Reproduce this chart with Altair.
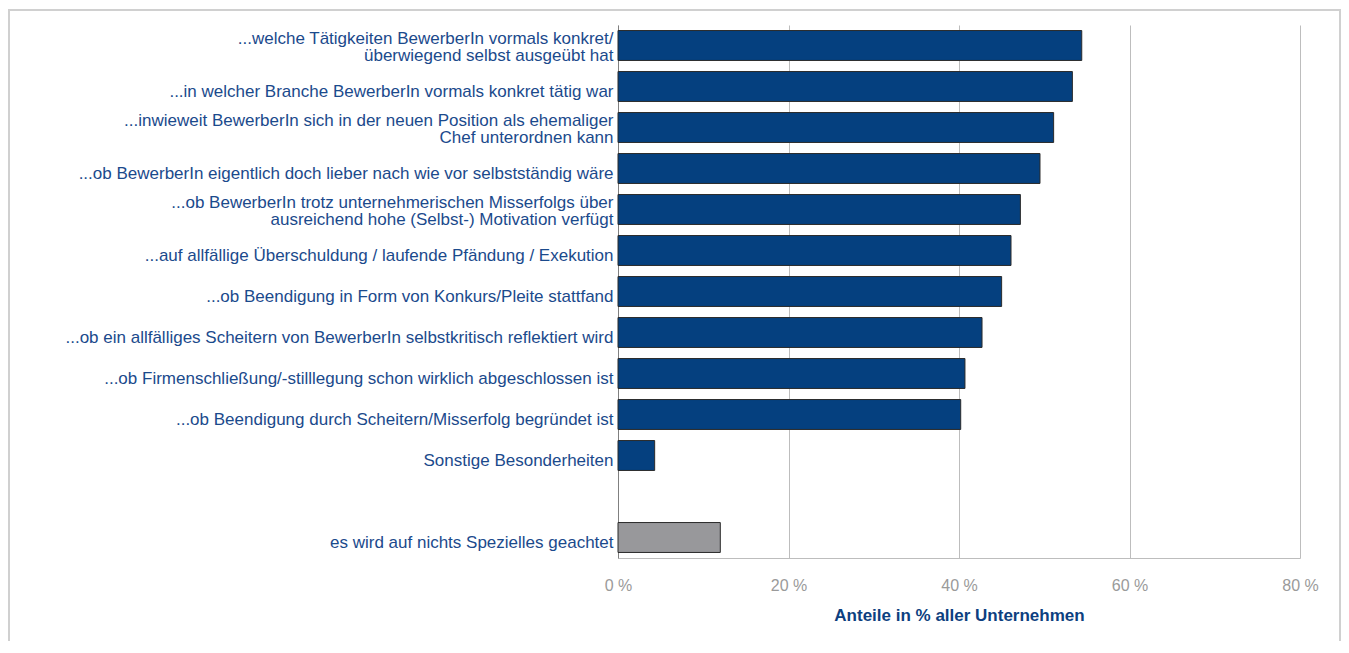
import altair as alt
import pandas as pd

categories = [
    "...welche Tätigkeiten BewerberIn vormals konkret/|überwiegend selbst ausgeübt hat",
    "...in welcher Branche BewerberIn vormals konkret tätig war",
    "...inwieweit BewerberIn sich in der neuen Position als ehemaliger |Chef unterordnen kann",
    "...ob BewerberIn eigentlich doch lieber nach wie vor selbstständig wäre",
    "...ob BewerberIn trotz unternehmerischen Misserfolgs über|ausreichend hohe (Selbst-) Motivation verfügt",
    "...auf allfällige Überschuldung / laufende Pfändung / Exekution",
    "...ob Beendigung in Form von Konkurs/Pleite stattfand",
    "...ob ein allfälliges Scheitern von BewerberIn selbstkritisch reflektiert wird",
    "...ob Firmenschließung/-stilllegung schon wirklich abgeschlossen ist",
    "...ob Beendigung durch Scheitern/Misserfolg begründet ist",
    "Sonstige Besonderheiten",
    "es wird auf nichts Spezielles geachtet",
]
values = [54.4, 53.3, 51.1, 49.5, 47.2, 46.1, 45.0, 42.7, 40.7, 40.2, 4.3, 12.0]
groups = ["detail"] * 11 + ["none"]

GAP = "gap"
domain = categories[:11] + [GAP] + categories[11:]

df = pd.DataFrame({"cat": categories, "value": values, "group": groups})

W, H = 682, 533

bars = alt.Chart(df).mark_bar(stroke="#2a2a2a", strokeWidth=1).encode(
    y=alt.Y(
        "cat:N",
        sort=domain,
        scale=alt.Scale(domain=domain, paddingInner=0.27, paddingOuter=0.135),
        axis=alt.Axis(
            title=None,
            labelExpr=f"datum.label == '{GAP}' ? '' : split(datum.label, '|')",
            labelFont="Liberation Sans",
            labelFontSize=17,
            labelColor="#1b4a8c",
            labelLineHeight=17,
            labelPadding=5,
            labelLimit=700,
            labelOffset={
                "condition": {"test": "indexof(datum.label, '|') >= 0", "value": -7},
                "value": 5,
            },
            ticks=False,
            domainColor="#808080",
            domainWidth=1,
            grid=False,
        ),
    ),
    x=alt.X(
        "value:Q",
        scale=alt.Scale(domain=[0, 80], nice=False),
        axis=alt.Axis(
            title="Anteile in % aller Unternehmen",
            titleFont="Liberation Sans",
            titleFontSize=17,
            titleFontWeight="bold",
            titleColor="#0d3f80",
            titlePadding=14,
            values=[0, 20, 40, 60, 80],
            labelExpr="datum.value + ' %'",
            labelFont="Liberation Sans",
            labelFontSize=16,
            labelColor="#9a9a9a",
            labelPadding=19,
            labelFlush=False,
            ticks=False,
            domainColor="#bdbdbd",
            gridColor="#bdbdbd",
            gridWidth=1,
        ),
    ),
    color=alt.Color(
        "group:N",
        scale=alt.Scale(domain=["detail", "none"], range=["#05407f", "#98989b"]),
        legend=None,
    ),
)

border_color = "#d0d0d0"
left = alt.Chart(df).mark_rule(color=border_color, strokeWidth=2).encode(
    x=alt.value(-609), y=alt.value(-16), y2=alt.value(616)
)
right = alt.Chart(df).mark_rule(color=border_color, strokeWidth=2).encode(
    x=alt.value(722), y=alt.value(-16), y2=alt.value(616)
)
top = alt.Chart(df).mark_rule(color=border_color, strokeWidth=2).encode(
    x=alt.value(-609), x2=alt.value(722), y=alt.value(-15)
)

chart = alt.layer(bars, left, right, top).properties(
    width=W, height=H, padding=0
).configure_view(strokeWidth=0)

chart.save("out.html", embed_options={"renderer": "svg", "actions": False})
